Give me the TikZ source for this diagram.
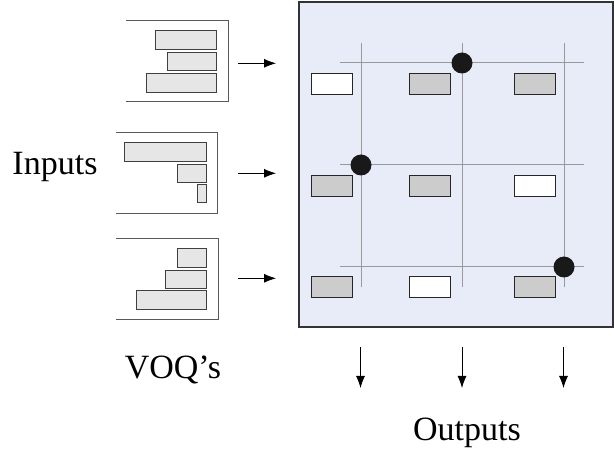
\documentclass[tikz,border=0pt]{standalone}
\usepackage{fontspec}
\setmainfont{Liberation Serif}
\usetikzlibrary{arrows.meta}
\definecolor{switchbg}{HTML}{E8ECF8}
\definecolor{cellgray}{HTML}{CCCCCC}
\definecolor{bargray}{HTML}{E6E6E6}
\definecolor{gridgray}{HTML}{999999}
\tikzset{
  cell/.style={draw=black!85,line width=0.9pt,minimum width=41pt,minimum height=21pt,inner sep=0pt},
  bar/.style={draw=black!75,line width=0.9pt,fill=bargray},
  queue/.style={draw=black!65,line width=1pt},
  grid line/.style={draw=gridgray,line width=1pt},
  cross/.style={circle,fill=black!90,minimum size=21pt,inner sep=0pt},
  flow/.style={-{Latex[length=12pt,width=9pt]},line width=0.8pt},
  big text/.style={font=\fontsize{34}{40}\selectfont}
}

\begin{document}
\begin{tikzpicture}[x=1pt,y=-1pt]
    \useasboundingbox (0,0) rectangle (614,449);
    % switch fabric
    \draw[fill=switchbg,draw=black!80,line width=1.3pt] (299,2) rectangle (613,327);
    \draw[grid line] (361,43) -- (361,287);
    \draw[grid line] (462,43) -- (462,287);
    \draw[grid line] (564,43) -- (564,287);
    \draw[grid line] (340,63) -- (584,63);
    \draw[grid line] (340,165) -- (584,165);
    \draw[grid line] (340,267) -- (584,267);
    \node[cell,fill=white] (c11) at (331.8,83.8) {};
    \node[cell,fill=cellgray] (c12) at (429.5,83.8) {};
    \node[cell,fill=cellgray] (c13) at (535.3,83.8) {};
    \node[cell,fill=cellgray] (c21) at (331.8,185.5) {};
    \node[cell,fill=cellgray] (c22) at (429.5,185.5) {};
    \node[cell,fill=white] (c23) at (535.3,185.5) {};
    \node[cell,fill=cellgray] (c31) at (331.8,287.3) {};
    \node[cell,fill=white] (c32) at (429.5,287.3) {};
    \node[cell,fill=cellgray] (c33) at (535.3,287.3) {};
    \node[cross] (x12) at (462,63) {};
    \node[cross] (x21) at (361,165) {};
    \node[cross] (x33) at (564,267) {};
    % virtual output queues
    \draw[queue] (126,20.7) -- (228.3,20.7) -- (228.3,102) -- (126,102);
    \draw[bar] (155,30.7) rectangle (216.3,49.3);
    \draw[bar] (167.3,52.3) rectangle (216.3,70.7);
    \draw[bar] (146.7,73.3) rectangle (216.3,92);
    \draw[queue] (116,132.7) -- (217.7,132.7) -- (217.7,214) -- (116,214);
    \draw[bar] (124.3,142.7) rectangle (206,161.3);
    \draw[bar] (177.3,164) rectangle (206,182.3);
    \draw[bar] (197.7,184.3) rectangle (206,202.7);
    \draw[queue] (116,238.3) -- (218.3,238.3) -- (218.3,320) -- (116,320);
    \draw[bar] (177.3,248.3) rectangle (206,267.3);
    \draw[bar] (165,270) rectangle (206,288.3);
    \draw[bar] (136.7,290.3) rectangle (206,309);
    % arrows
    \coordinate (in1) at (238,63.3);
    \coordinate (in1e) at (276,63.3);
    \coordinate (in2) at (238,173.3);
    \coordinate (in2e) at (276,173.3);
    \coordinate (in3) at (238,278.3);
    \coordinate (in3e) at (276,278.3);
    \draw[flow] (in1) -- (in1e);
    \draw[flow] (in2) -- (in2e);
    \draw[flow] (in3) -- (in3e);
    \coordinate (out1) at (360.5,347);
    \coordinate (out1e) at (360.5,388);
    \coordinate (out2) at (462,347);
    \coordinate (out2e) at (462,388);
    \coordinate (out3) at (563.5,347);
    \coordinate (out3e) at (563.5,388);
    \draw[flow] (out1) -- (out1e);
    \draw[flow] (out2) -- (out2e);
    \draw[flow] (out3) -- (out3e);
    % labels
    \node[big text,anchor=base] (inputs) at (55,175) {Inputs};
    \node[big text,anchor=base] (voqs) at (173,379) {VOQ’s};
    \node[big text,anchor=base] (outputs) at (467,440) {Outputs};
\end{tikzpicture}
\end{document}
